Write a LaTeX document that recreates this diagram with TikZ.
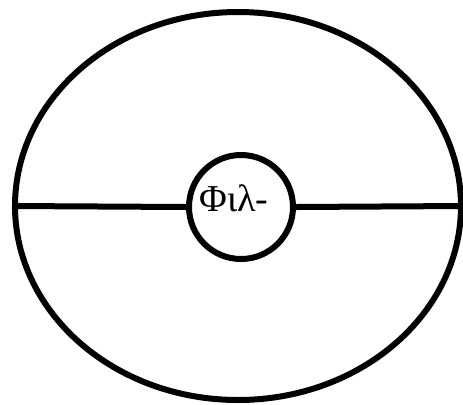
\documentclass[tikz,border=0pt]{standalone}
\usepackage{fontspec}
\setmainfont{Liberation Serif}
\usetikzlibrary{positioning,shapes.geometric}
\begin{document}
\begin{tikzpicture}[x=0.5pt, y=-0.5pt,
  outer/.style ={draw, ellipse, line width=3pt, minimum width=223pt, minimum height=194pt, inner sep=0pt},
  inner/.style ={draw, circle, line width=3pt, minimum size=52pt, inner sep=0pt},
  bar/.style   ={line width=3pt},
  lbl/.style   ={font=\fontsize{19}{19}\selectfont, inner sep=0pt}]
\useasboundingbox (0,0) rectangle (463,404);

%% Outer ellipse and small central circle
\node[outer] (shell) at (238,206) {};
\node[inner] (core)  at (241,207) {};

%% Label inside the core
\node[lbl] (name) at (234,198) {Φιλ-};

%% Horizontal bar through the middle
\draw[bar] (shell.west) -- (core.west);
\draw[bar] (core.east) -- (shell.east);
\end{tikzpicture}
\end{document}
